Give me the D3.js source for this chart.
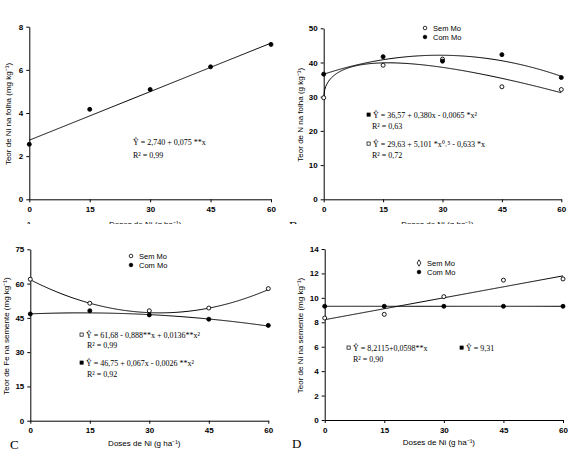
<!DOCTYPE html>
<html>
<head>
<meta charset="utf-8">
<script src="https://cdn.jsdelivr.net/npm/d3@7"></script>
<style>
  body { margin: 0; background: #fff; }
  svg text { fill: #000; }
</style>
</head>
<body>
<div id="chart"></div>
<script>
// doses de Ni (g ha-1)
var doses = [0, 15, 30, 45, 60];

// A - Ni na folha
var niFolha = [2.55, 4.17, 5.09, 6.14, 7.18];
// B - N na folha
var nFolhaSem = [29.7, 39.2, 41.0, 32.9, 32.1];
var nFolhaCom = [36.6, 41.7, 40.4, 42.3, 35.6];
// C - Fe na semente
var feSementeSem = [61.9, 51.4, 48.1, 49.3, 57.8];
var feSementeCom = [46.7, 48.1, 46.3, 44.4, 41.7];
// D - Ni na semente
var niSementeSem = [8.35, 8.65, 10.1, 11.45, 11.55];
var niSementeCom = [9.31, 9.31, 9.31, 9.31, 9.31];

// regression coefficients
var fitA = [2.740, 0.075];
var fitBCom = [36.57, 0.380, -0.0065];
var fitBSem = [29.63, 5.101, -0.633];   // a + b*x^0.5 + c*x
var fitCSem = [61.68, -0.888, 0.0136];
var fitCCom = [46.75, 0.067, -0.0026];
var fitDSem = [8.2115, 0.0598];
var fitDCom = [9.31];

var xTicks = [0, 15, 30, 45, 60];
var yTicksA = [0, 2, 4, 6, 8];
var yTicksB = [0, 10, 20, 30, 40, 50];
var yTicksC = [0, 15, 30, 45, 60, 75];
var yTicksD = [0, 2, 4, 6, 8, 10, 12, 14];

var svg = d3.select("#chart").append("svg")
  .attr("width", 576)
  .attr("height", 460);

// top row is cut off just below the axis title, like the scan
svg.append("defs").append("clipPath").attr("id", "topclip")
  .append("rect").attr("x", 0).attr("y", 0).attr("width", 576).attr("height", 224);

var topRow = svg.append("g").attr("clip-path", "url(#topclip)");
var bottomRow = svg.append("g");

var poly = c => x => c.reduce((s, k, i) => s + k * Math.pow(x, i), 0);
var sqrtModel = c => x => c[0] + c[1] * Math.sqrt(x) + c[2] * x;

var sans = "'Liberation Sans', Arial, sans-serif";
var serif = "'Liberation Serif', 'Times New Roman', serif";

function panel(parent, p) {
  var g = parent.append("g");
  var x = d3.scaleLinear().domain([0, 60]).range([p.left, p.right]);
  var y = d3.scaleLinear().domain([0, p.ymax]).range([p.bottom, p.top]);

  var xAxis = g.append("g")
    .attr("transform", `translate(0, ${p.bottom})`)
    .call(d3.axisBottom(x).tickValues(xTicks).tickSize(3).tickSizeOuter(0).tickPadding(4));
  var yAxis = g.append("g")
    .attr("transform", `translate(${p.left}, 0)`)
    .call(d3.axisLeft(y).tickValues(p.yticks).tickSize(3).tickSizeOuter(0).tickPadding(3));
  [xAxis, yAxis].forEach(function (a) {
    a.selectAll("path, line").attr("stroke", "#000").attr("stroke-width", 1);
    a.selectAll("text").style("font", "8px " + sans).style("font-weight", "bold").attr("fill", "#000");
  });

  // fitted curves
  var line = d3.line().x(d => x(d[0])).y(d => y(d[1]));
  var xs = d3.range(0, 60.01, 0.25);
  p.fits.forEach(function (f) {
    g.append("path")
      .datum(xs.map(v => [v, f(v)]))
      .attr("d", line)
      .attr("fill", "none")
      .attr("stroke", "#000")
      .attr("stroke-width", 1);
  });

  // points
  p.series.forEach(function (s) {
    g.selectAll(null)
      .data(s.values)
      .enter()
      .append("circle")
      .attr("cx", (d, i) => x(doses[i]))
      .attr("cy", d => y(d))
      .attr("r", 2)
      .attr("fill", s.open ? "#fff" : "#000")
      .attr("stroke", "#000")
      .attr("stroke-width", 0.9);
  });

  // legend
  if (p.legend) {
    p.legend.items.forEach(function (it, i) {
      var ly = p.legend.y + i * 9;
      if (it.diamond) {
        g.append("path")
          .attr("d", d3.symbol(d3.symbolDiamond, 12)())
          .attr("transform", `translate(${p.legend.x}, ${ly})`)
          .attr("fill", "#fff").attr("stroke", "#000").attr("stroke-width", 0.8);
      } else {
        g.append("circle")
          .attr("cx", p.legend.x).attr("cy", ly).attr("r", 1.8)
          .attr("fill", it.open ? "#fff" : "#000")
          .attr("stroke", "#000").attr("stroke-width", 0.8);
      }
      g.append("text")
        .attr("x", p.legend.x + 8).attr("y", ly + 3)
        .style("font", "7.5px " + sans)
        .text(it.label);
    });
  }

  // equations
  p.eqs.forEach(function (e) {
    if (e.marker) {
      g.append("rect")
        .attr("x", e.x - 6).attr("y", e.y - 5).attr("width", 3.2).attr("height", 3.2)
        .attr("fill", e.marker == "open" ? "#fff" : "#000")
        .attr("stroke", "#000").attr("stroke-width", 0.7);
    }
    g.append("text")
      .attr("x", e.x).attr("y", e.y)
      .style("font", "8px " + serif)
      .text(e.text);
  });

  // axis titles
  g.append("text")
    .attr("transform", `translate(${p.ylabelX}, ${(p.top + p.bottom) / 2 + 1}) rotate(-90)`)
    .attr("text-anchor", "middle")
    .style("font", "8px " + sans)
    .text(p.ylabel);

  g.append("text")
    .attr("x", (p.left + p.right) / 2 - 5)
    .attr("y", p.bottom + p.titleGap)
    .attr("text-anchor", "middle")
    .style("font", "8px " + sans)
    .text("Doses de Ni (g ha⁻¹)");

  g.append("text")
    .attr("x", p.letterX)
    .attr("y", p.bottom + p.titleGap + 3)
    .style("font", "13px " + serif)
    .text(p.letter);
}

panel(topRow, {
  left: 29.3, right: 271, top: 26.7, bottom: 199.3, ymax: 8, yticks: yTicksA, titleGap: 27.5,
  ylabel: "Teor de Ni na folha (mg kg⁻¹)", ylabelX: 11, letter: "A", letterX: 24,
  fits: [poly(fitA)],
  series: [{ values: niFolha, open: false }],
  eqs: [
    { x: 133, y: 145, text: "Ŷ = 2,740 + 0,075 **x" },
    { x: 133, y: 158, text: "R² = 0,99" }
  ]
});

panel(topRow, {
  left: 323.7, right: 561.3, top: 28.3, bottom: 199.3, ymax: 50, yticks: yTicksB, titleGap: 27.5,
  ylabel: "Teor de N na folha (g kg⁻¹)", ylabelX: 303, letter: "B", letterX: 289,
  fits: [poly(fitBCom), sqrtModel(fitBSem)],
  series: [{ values: nFolhaSem, open: true }, { values: nFolhaCom, open: false }],
  legend: { x: 425, y: 28, items: [{ label: "Sem Mo", open: true }, { label: "Com Mo", open: false }] },
  eqs: [
    { x: 373, y: 118, marker: "filled", text: "Ŷ = 36,57 + 0,380x - 0,0065 *x²" },
    { x: 372, y: 129, text: "R² = 0,63" },
    { x: 373, y: 147, marker: "open", text: "Ŷ = 29,63 + 5,101 *x⁰˒⁵ - 0,633 *x" },
    { x: 372, y: 158, text: "R² = 0,72" }
  ]
});

panel(bottomRow, {
  left: 30.3, right: 268.3, top: 249.3, bottom: 420.7, ymax: 75, yticks: yTicksC, titleGap: 25,
  ylabel: "Teor de Fe na semente (mg kg⁻¹)", ylabelX: 9, letter: "C", letterX: 10,
  fits: [poly(fitCSem), poly(fitCCom)],
  series: [{ values: feSementeSem, open: true }, { values: feSementeCom, open: false }],
  legend: { x: 131, y: 256, items: [{ label: "Sem Mo", open: true }, { label: "Com Mo", open: false }] },
  eqs: [
    { x: 86, y: 338, marker: "open", text: "Ŷ = 61,68 - 0,888**x + 0,0136**x²" },
    { x: 87, y: 348, text: "R² = 0,99" },
    { x: 86, y: 366, marker: "filled", text: "Ŷ = 46,75 + 0,067x - 0,0026 **x²" },
    { x: 87, y: 377, text: "R² = 0,92" }
  ]
});

panel(bottomRow, {
  left: 324.7, right: 563, top: 249, bottom: 420, ymax: 14, yticks: yTicksD, titleGap: 25,
  ylabel: "Teor de Ni na semente (mg kg⁻¹)", ylabelX: 303, letter: "D", letterX: 292,
  fits: [poly(fitDSem), poly(fitDCom)],
  series: [{ values: niSementeSem, open: true }, { values: niSementeCom, open: false }],
  legend: { x: 419, y: 263, items: [{ label: "Sem Mo", diamond: true }, { label: "Com Mo", open: false }] },
  eqs: [
    { x: 353, y: 351, marker: "open", text: "Ŷ = 8,2115+0,0598**x" },
    { x: 353, y: 362, text: "R² = 0,90" },
    { x: 466, y: 351, marker: "filled", text: "Ŷ = 9,31" }
  ]
});
</script>
</body>
</html>
